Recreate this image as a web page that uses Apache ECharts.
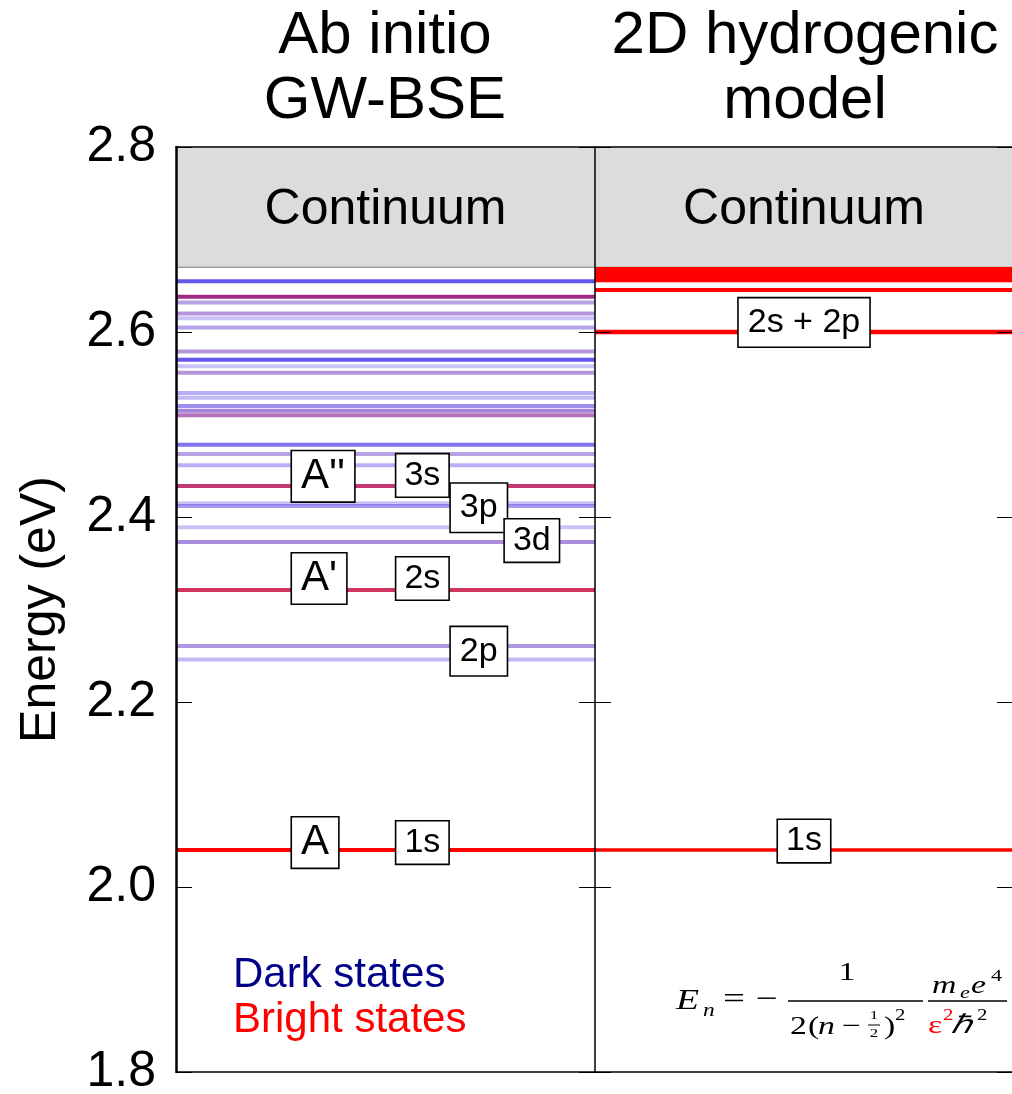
<!DOCTYPE html>
<html><head><meta charset="utf-8">
<script src="https://cdn.jsdelivr.net/npm/echarts@6/dist/echarts.min.js"></script>
<style>html,body{margin:0;padding:0;background:#fff}#c{width:1012px;height:1094px}</style>
</head><body><div id="c"></div>
<script>
// ---------------- DATA ----------------
const yTicks = [1.8, 2.0, 2.2, 2.4, 2.6, 2.8];
const panelTitles = ['Ab initio\nGW-BSE', '2D hydrogenic\nmodel'];
const continuumLabel = 'Continuum';
const continuumStart = [2.670, 2.670];   // eV, bottom of the grey continuum box (per panel)

// Ab initio GW-BSE exciton levels (eV)
const gwEnergies   = [2.655, 2.638, 2.632, 2.620, 2.615, 2.605, 2.579, 2.570, 2.563, 2.556,
                      2.534, 2.529, 2.520, 2.515, 2.510, 2.478, 2.468, 2.456, 2.4335, 2.415,
                      2.412, 2.389, 2.373, 2.321, 2.2605, 2.246, 2.040];
// brightness of each level: 0 = dark (blue) ... 1 = bright (red)
const gwBrightness = [0.0, 0.45, 0.1, 0.2, 0.0, 0.1, 0.2, 0.0, 0.0, 0.2,
                      0.0, 0.0, 0.05, 0.15, 0.35, 0.0, 0.15, 0.0, 0.6, 0.0,
                      0.05, 0.0, 0.15, 0.7, 0.15, 0.0, 1.0];
// intensity (opacity) of each level line
const gwIntensity  = [0.85, 0.95, 0.45, 0.5, 0.3, 0.45, 0.5, 0.85, 0.3, 0.5,
                      0.4, 0.35, 0.55, 0.6, 0.65, 0.7, 0.45, 0.4, 0.85, 0.3,
                      0.5, 0.3, 0.55, 0.85, 0.5, 0.35, 1.0];

// 2D hydrogenic model levels (eV)
const hydEnergies  = [2.040, 2.600, 2.6455, 2.656, 2.659, 2.662, 2.665, 2.667, 2.668];

// state labels
const gwLabelNames    = ['A', '1s', "A'", '2s', "A''", '3s', '3p', '3d', '2p'];
const gwLabelEnergies = [2.048, 2.048, 2.3335, 2.3335, 2.444, 2.445, 2.410, 2.3745, 2.255];
const hydLabelNames    = ['2s + 2p', '1s'];
const hydLabelEnergies = [2.6103, 2.0497];

const legendNames = ['Dark states', 'Bright states'];

// ---------------- LAYOUT / STYLE ----------------
const FONT = '"Liberation Sans", Arial, Helvetica, sans-serif';
const SERIF = '"Liberation Serif", "Times New Roman", serif';
const gwLabelX  = [0.277, 0.526, 0.277, 0.526, 0.277, 0.526, 0.656, 0.785, 0.656]; // left edge, fraction of panel
const hydLabelX = [0.5, 0.5]; // centre, fraction of panel
const DARK = [75, 55, 230], BRIGHT = [255, 0, 0];
function levelColor(b, a) {
  const c = DARK.map((d, k) => Math.round(d * (1 - b) + BRIGHT[k] * b));
  return 'rgba(' + c.join(',') + ',' + a + ')';
}

const chart = echarts.init(document.getElementById('c'), null, {renderer: 'canvas'});

const grids = [
  {left: 176, top: 147, width: 419, height: 925, containLabel: false, outerBoundsMode: 'none'},
  {left: 595, top: 147, width: 418, height: 925, containLabel: false, outerBoundsMode: 'none'}
];

function yAx(grid, pos, opts) {
  return Object.assign({
    type: 'value', gridIndex: grid, position: pos, min: yTicks[0], max: yTicks[yTicks.length - 1],
    interval: 0.2, z: 10,
    axisLine: {show: true, onZero: false, lineStyle: {color: '#000', width: 1.5}},
    axisTick: {show: true, inside: true, length: 16, lineStyle: {color: '#000', width: 1}},
    axisLabel: {show: false},
    splitLine: {show: false}
  }, opts || {});
}
function xAx(grid, pos) {
  return {
    type: 'value', gridIndex: grid, position: pos, min: 0, max: 1, z: 12,
    axisLine: {show: true, onZero: false, lineStyle: {color: '#000', width: 1.5}},
    axisTick: {show: false}, axisLabel: {show: false}, splitLine: {show: false}
  };
}

const yAxes = [
  yAx(0, 'left', {
    axisLine: {show: true, onZero: false, lineStyle: {color: '#000', width: 2.5}},
    axisLabel: {show: true, color: '#000', fontSize: 50, fontFamily: FONT, margin: 20,
                formatter: v => v.toFixed(1)},
    name: 'Energy (eV)', nameLocation: 'middle', nameGap: 110,
    nameTextStyle: {color: '#000', fontSize: 50, fontFamily: FONT}
  }),
  yAx(0, 'right'),
  yAx(1, 'left', {axisLine: {show: false, onZero: false}}),
  yAx(1, 'right', {axisLine: {show: false, onZero: false}})
];
const xAxes = [xAx(0, 'bottom'), xAx(0, 'top'), xAx(1, 'bottom'), xAx(1, 'top')];

function continuumSeries(g) {
  return {
    type: 'custom', xAxisIndex: g * 2, yAxisIndex: g * 2, z: 1, silent: true,
    data: [[continuumStart[g], yTicks[yTicks.length - 1]]],
    encode: {y: [0, 1]},
    renderItem(params, api) {
      const p0 = api.coord([0, api.value(1)]);
      const p1 = api.coord([1, api.value(0)]);
      return {type: 'group', children: [
        {type: 'rect', shape: {x: p0[0], y: p0[1], width: p1[0] - p0[0], height: p1[1] - p0[1]},
         style: {fill: '#dcdcdc'}},
        {type: 'line', shape: {x1: p0[0], y1: p1[1], x2: p1[0], y2: p1[1]},
         style: {stroke: '#7a7a7a', lineWidth: 1.2}},
        {type: 'text', style: {text: continuumLabel, x: (p0[0] + p1[0]) / 2, y: (p0[1] + p1[1]) / 2 + 3,
          align: 'center', verticalAlign: 'middle', fill: '#000', font: '50px ' + FONT}}
      ]};
    }
  };
}

function levelSeries(g, energies, colorOf, width) {
  return {
    type: 'custom', xAxisIndex: g * 2, yAxisIndex: g * 2, z: 3, silent: true, clip: true,
    data: energies.map((e, i) => [e, i]),
    encode: {y: 0},
    renderItem(params, api) {
      const e = api.value(0), i = api.value(1);
      const p0 = api.coord([0, e]), p1 = api.coord([1, e]);
      return {type: 'line', shape: {x1: p0[0], y1: p0[1], x2: p1[0], y2: p1[1]},
              style: {stroke: colorOf(i), lineWidth: width(i)}};
    }
  };
}

function labelSeries(g, names, energies, xs, align) {
  return {
    type: 'custom', xAxisIndex: g * 2, yAxisIndex: g * 2, z: 6, silent: true,
    data: energies.map((e, i) => [e, i]),
    encode: {y: 0},
    renderItem(params, api) {
      const e = api.value(0), i = api.value(1);
      const name = names[i];
      const p = api.coord([xs[i], e]);
      const big = name.charAt(0) === 'A';
      const desc = name.indexOf('p') >= 0;
      return {type: 'text', style: {
        text: name, x: p[0], y: p[1], align: align, verticalAlign: 'middle',
        font: (big ? 42 : 34) + 'px ' + FONT, fill: '#000',
        backgroundColor: '#fff', borderColor: '#000', borderWidth: 1.6,
        padding: big ? [4, 9, 4, 9] : (desc ? [4, 9, 10, 9] : [4, 8, 4, 8])
      }};
    }
  };
}

const series = [
  continuumSeries(0), continuumSeries(1),
  levelSeries(0, gwEnergies, i => levelColor(gwBrightness[i], gwIntensity[i]), i => 4),
  levelSeries(1, hydEnergies, i => 'rgb(255,0,0)', i => (i === 1 ? 4.5 : (i === 0 ? 3.5 : 4))),
  labelSeries(0, gwLabelNames, gwLabelEnergies, gwLabelX, 'left'),
  labelSeries(1, hydLabelNames, hydLabelEnergies, hydLabelX, 'center')
];

// formula (decorative), drawn in a horizontally stretched group like the reference inset
const FX = 676, FS = 1.3;
function lx(X) { return (X - FX) / FS; }
function t(text, X, y, size, opts) {
  return {type: 'text', style: Object.assign({
    text: text, x: lx(X), y: y, fill: '#000', font: size + 'px ' + SERIF,
    align: 'left', verticalAlign: 'middle'}, opts || {})};
}
function ti(text, X, y, size, opts) {
  return t(text, X, y, size, Object.assign({font: 'italic ' + size + 'px ' + SERIF}, opts || {}));
}
function hl(X1, X2, y, w) {
  return {type: 'line', shape: {x1: lx(X1), y1: y, x2: lx(X2), y2: y}, style: {stroke: '#000', lineWidth: w}};
}
const formula = {type: 'group', x: FX, y: 0, scaleX: FS, scaleY: 1, z: 20, children: [
  ti('E', 676, 1001, 29), ti('n', 703, 1011, 18),
  t('=', 723, 1000, 30), t('\u2212', 756, 1000, 30),
  hl(788, 923, 1001, 1.3),
  t('1', 847, 973, 26, {align: 'center'}),
  t('2', 790, 1027, 26), t('(', 808, 1027, 26), ti('n', 818, 1027, 26), t('\u2212', 842, 1027, 26),
  t('1', 874, 1016, 13, {align: 'center'}),
  hl(868, 880, 1025, 1),
  t('2', 874, 1034, 13, {align: 'center'}),
  t(')', 884, 1027, 26), t('2', 895, 1016, 16),
  hl(928, 1007, 1001, 1.3),
  ti('m', 932, 986, 26), ti('e', 960, 994, 17), ti('e', 971, 986, 26), t('4', 991, 977, 17),
  t('\u03b5', 928, 1026, 26, {fill: '#ff0000'}), t('2', 943, 1016, 16, {fill: '#ff0000'}),
  ti('\u210f', 951, 1026, 26), t('2', 977, 1016, 16)
]};

const graphics = [
  {type: 'text', z: 20, style: {text: panelTitles[0], x: 385, y: 4, align: 'center', verticalAlign: 'top',
    font: '60px ' + FONT, lineHeight: 65, fill: '#000'}},
  {type: 'text', z: 20, style: {text: panelTitles[1], x: 805, y: 4, align: 'center', verticalAlign: 'top',
    font: '60px ' + FONT, lineHeight: 65, fill: '#000'}},
  {type: 'text', z: 20, style: {text: legendNames[0], x: 233, y: 975, align: 'left', verticalAlign: 'middle',
    font: '42px ' + FONT, fill: '#000088'}},
  {type: 'text', z: 20, style: {text: legendNames[1], x: 233, y: 1020, align: 'left', verticalAlign: 'middle',
    font: '42px ' + FONT, fill: '#ff0000'}},
  formula
];

chart.setOption({
  animation: false,
  backgroundColor: '#fff',
  grid: grids,
  xAxis: xAxes,
  yAxis: yAxes,
  series: series,
  graphic: graphics
});
</script>
</body></html>
